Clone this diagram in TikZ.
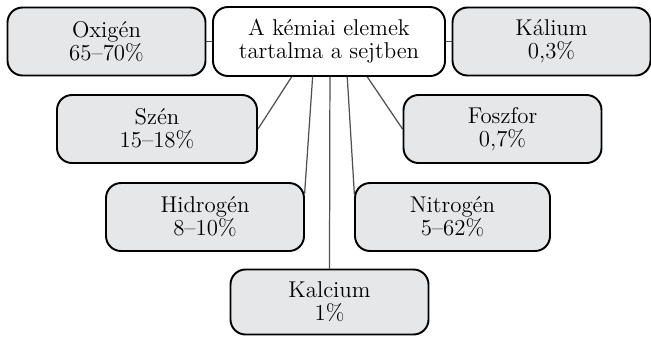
\documentclass[tikz,border=0pt]{standalone}
\usepackage{tikz}
\usetikzlibrary{calc,backgrounds}

\tikzset{
  elembox/.style={draw, line width=1.1pt, rounded corners=0.3cm, fill=boxgray,
    minimum width=3.96cm, minimum height=1.36cm, align=center,
    font=\fontsize{13}{13}\selectfont},
  mainbox/.style={elembox, fill=white, minimum width=4.64cm, minimum height=1.38cm},
  link/.style={draw=linegray, line width=0.7pt}
}
\definecolor{boxgray}{RGB}{230,231,232}
\definecolor{linegray}{RGB}{80,80,80}

\begin{document}
\begin{tikzpicture}

\useasboundingbox (0,0) rectangle (13.02,6.74);

% Central box
\node[mainbox] (center) at (6.58,5.91) {A kémiai elemek\\tartalma a sejtben};

% Top row
\node[elembox] (oxigen) at (2.13,5.91) {Oxigén\\65--70\%};
\node[elembox] (kalium) at (11.03,5.91) {Kálium\\0,3\%};

% Second row
\node[elembox, minimum width=4cm] (szen) at (3.14,4.16) {Szén\\15--18\%};
\node[elembox] (foszfor) at (10.05,4.16) {Foszfor\\0,7\%};

% Third row
\node[elembox] (hidrogen) at (4.10,2.40) {Hidrogén\\8--10\%};
\node[elembox, minimum width=3.9cm] (nitrogen) at (9.05,2.40) {Nitrogén\\5--62\%};

% Bottom
\node[elembox, minimum height=1.3cm] (kalcium) at (6.59,0.70) {Kalcium\\1\%};

% Start points under the central box
\coordinate (s1) at ($(center.south west)!0.34!(center.south east)$);
\coordinate (s2) at ($(center.south west)!0.43!(center.south east)$);
\coordinate (s3) at ($(center.south west)!0.504!(center.south east)$);
\coordinate (s4) at ($(center.south west)!0.578!(center.south east)$);
\coordinate (s5) at ($(center.south west)!0.664!(center.south east)$);

% Connectors
\begin{scope}[on background layer]
\draw[link] (oxigen.east) -- (center.west);
\draw[link] (center.east) -- (kalium.west);
\draw[link] (s1) -- (szen.east);
\draw[link, shorten >=-3pt] (s2) -- (hidrogen.16);
\draw[link] (s3) -- (kalcium.north);
\draw[link, shorten >=-3pt] (s4) -- (nitrogen.164);
\draw[link] (s5) -- (foszfor.west);
\end{scope}
\end{tikzpicture}
\end{document}
